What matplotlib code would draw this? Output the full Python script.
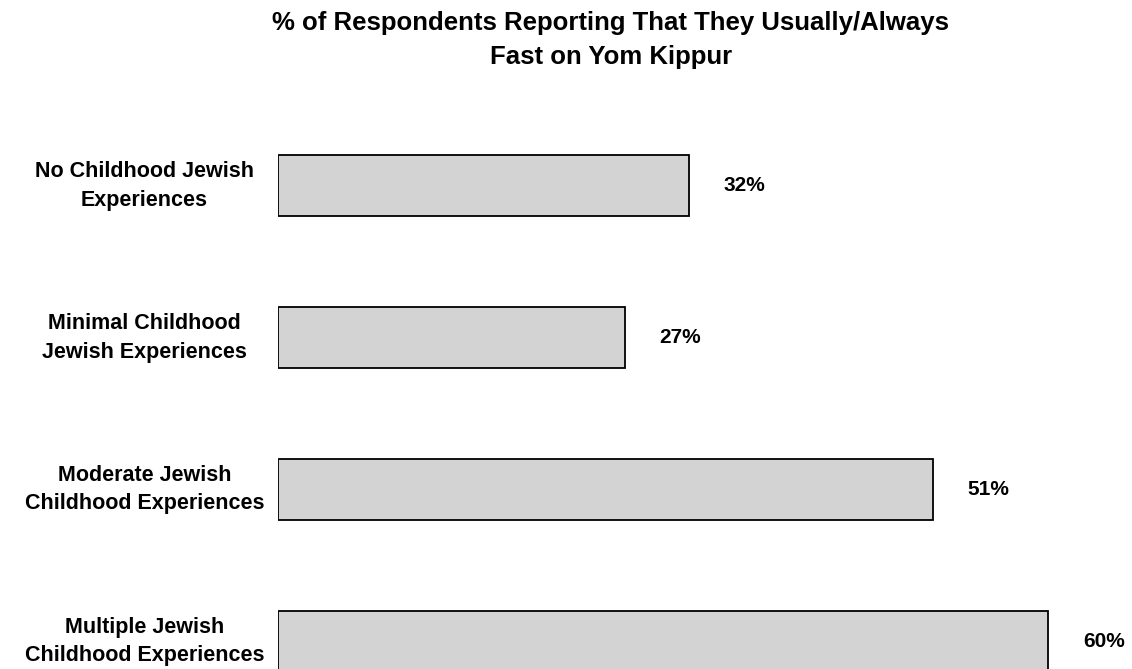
import matplotlib.pyplot as plt

plt.rcParams['font.family'] = ['Liberation Sans', 'DejaVu Sans']

categories = ["No Childhood Jewish\nExperiences",
              "Minimal Childhood\nJewish Experiences",
              "Moderate Jewish\nChildhood Experiences",
              "Multiple Jewish\nChildhood Experiences"]
values = [32, 27, 51, 60]
value_labels = ["32%", "27%", "51%", "60%"]
title_lines = ["% of Respondents Reporting That They Usually/Always",
               "Fast on Yom Kippur"]

W, H = 1132, 669
fig = plt.figure(figsize=(W / 100, H / 100), dpi=100)
# axes starts at the bars' left edge and runs to the right side of the image
ax = fig.add_axes([278 / W, 0, 1 - 278 / W, 1])

pos = list(range(len(values)))
ax.barh(pos, values, height=0.40, color='#D3D3D3', edgecolor='black', linewidth=1.3)

ax.set_xlim(0, (W - 278) / 12.84)
ax.set_ylim((669 - 185.5) / 152, -185.5 / 152)
ax.axis('off')

for p, v, lab in zip(pos, values, value_labels):
    ax.text(v + 2.7, p, lab, ha='left', va='center', fontsize=15, fontweight='bold')

for p, cat in zip(pos, categories):
    ax.text(-10.4, p, cat, ha='center', va='center', fontsize=15.5,
            fontweight='bold', linespacing=1.5, clip_on=False)

for yb, line in zip([30, 64], title_lines):
    fig.text(611 / W, 1 - yb / H, line, ha='center', va='baseline',
             fontsize=18.5, fontweight='bold')

fig.savefig('out.png', dpi=100)
